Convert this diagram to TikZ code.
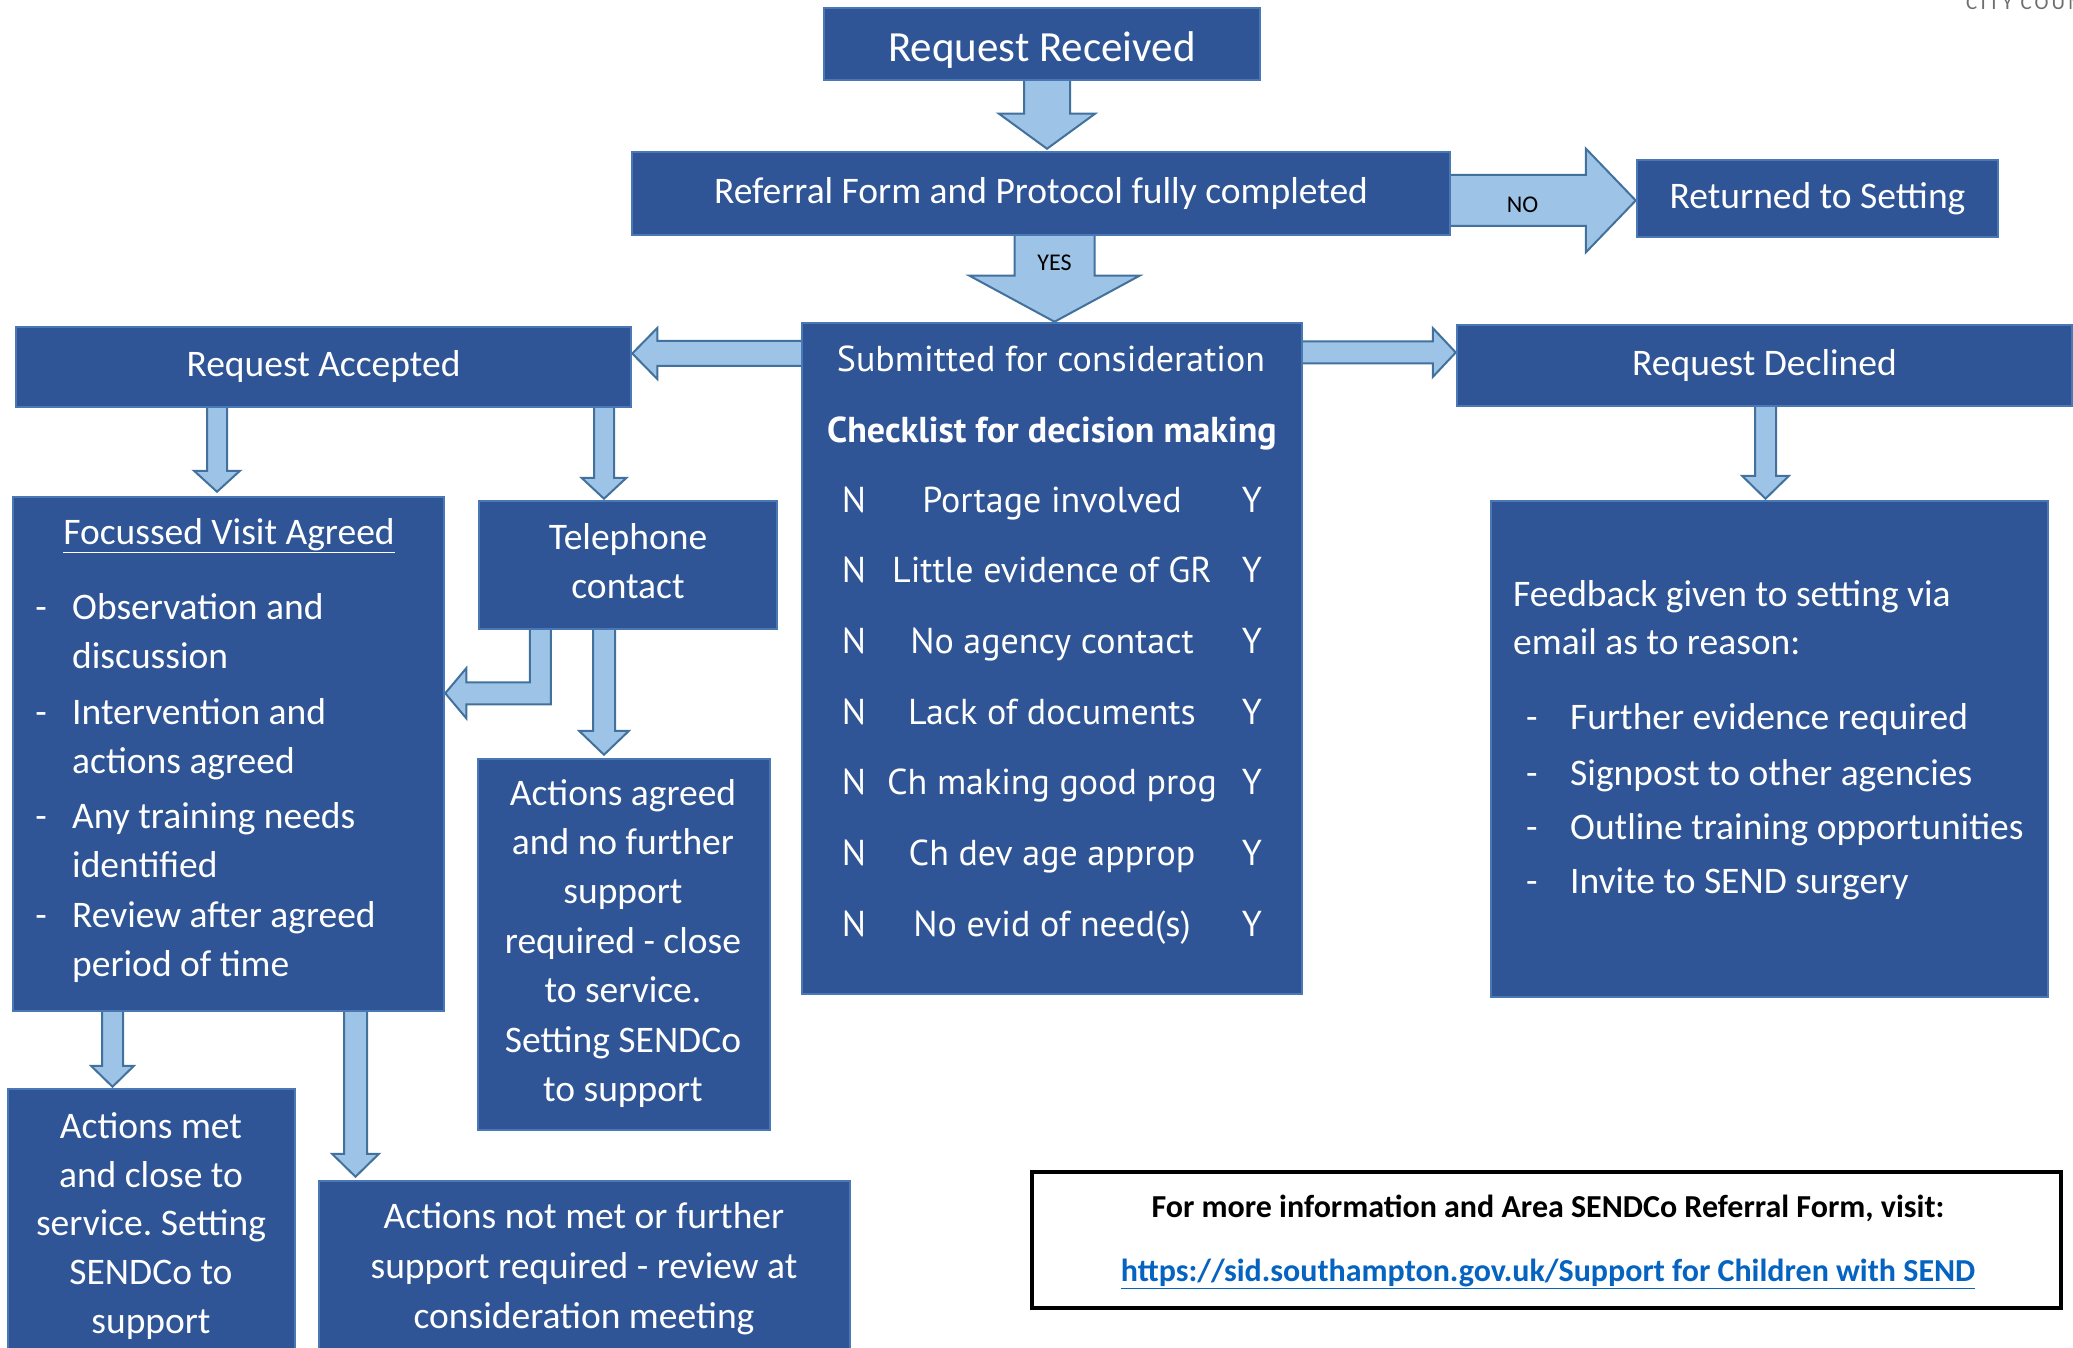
\documentclass[tikz,border=0pt]{standalone}
\usepackage{fontspec}
\setmainfont{Carlito}
\newfontfamily\chkfont{PT Sans}
\usetikzlibrary{calc}

\pgfdeclarelayer{background}
\pgfsetlayers{background,main}

\definecolor{boxblue}{HTML}{2F5597}
\definecolor{boxline}{HTML}{4A78B5}
\definecolor{arrowfill}{HTML}{9DC3E6}
\definecolor{arrowline}{HTML}{41719C}
\definecolor{linkblue}{HTML}{0563C1}
\definecolor{logogray}{HTML}{6E6E6E}

% block arrow: from, to, shaft half width, head half width, head length
\newcommand{\blockarrow}[5]{%
  \coordinate (ba-hb) at ($(#2)!#5pt!(#1)$);
  \filldraw[blockarr] ($(#1)!#3pt!90:(#2)$) -- ($(ba-hb)!#3pt!90:(#2)$)
    -- ($(ba-hb)!#4pt!90:(#2)$) -- (#2) -- ($(ba-hb)!#4pt!-90:(#2)$)
    -- ($(ba-hb)!#3pt!-90:(#2)$) -- ($(#1)!#3pt!-90:(#2)$) -- cycle;}

\begin{document}
\frenchspacing
\begin{tikzpicture}[x=1pt, y=-1pt,
    box/.style={draw=boxline, fill=boxblue, line width=2.5pt, inner sep=0pt,
      text=white, align=center, font=\fontsize{37.5}{49}\selectfont},
    txt/.style={text=white, inner sep=0pt, font=\fontsize{37.5}{49}\selectfont},
    chk/.style={text=white, inner sep=0pt, anchor=base, font=\chkfont\fontsize{36}{40}\selectfont},
    blockarr/.style={fill=arrowfill, draw=arrowline, line width=2pt, line join=miter},
    yesno/.style={inner sep=0pt, font=\fontsize{24}{28}\selectfont}]
    \useasboundingbox (0,0) rectangle (2073,1348);

    % Boxes
    \node[box, minimum width=436, minimum height=72, text height=40pt, text depth=5pt,
      font=\fontsize{43}{49}\selectfont] (recv) at (1042,44) {Request Received};
    \node[box, minimum width=818, minimum height=83] (ref) at (1041,193.5) {Referral Form and Protocol fully completed\vphantom{g}};
    \node[box, minimum width=361, minimum height=77] (ret) at (1817.5,198.5) {Returned to Setting};
    \node[box, minimum width=500, minimum height=671] (sub) at (1052,658.5) {};
    \node[box, minimum width=615, minimum height=80] (acc) at (323.5,367) {Request Accepted};
    \node[box, minimum width=615, minimum height=81] (dec) at (1764.5,365.5) {Request Declined};
    \node[box, minimum width=431, minimum height=514] (foc) at (228.5,754) {};
    \node[box, minimum width=298, minimum height=128] (tel) at (628,565) {};
    \node[box, minimum width=292, minimum height=371] (agr) at (624,944.5) {};
    \node[box, minimum width=557, minimum height=496] (fb) at (1769.5,749) {};
    \node[box, minimum width=287, minimum height=300] (met) at (151.5,1239) {};
    \node[box, minimum width=531, minimum height=200] (notmet) at (584.5,1281) {};
    \node[draw=black, line width=4pt, fill=white, minimum width=1029, minimum height=136] (info) at (1546.5,1240) {};

    % Checklist
    \node[chk] (subtitle) at (1051,371) {Submitted for consideration};
    \node[chk, font=\chkfont\bfseries\fontsize{36}{40}\selectfont] (chktitle) at (1052,442) {Checklist for decision making};
    \foreach \crit [count=\i from 0] in {Portage involved, Little evidence of GR, No agency contact,
        Lack of documents, Ch making good prog, Ch dev age approp, No evid of need(s)} {
      \node[chk] (chkN\i) at (854,512+70.7*\i) {N};
      \node[chk] (chkT\i) at (1052,512+70.7*\i) {\crit};
      \node[chk] (chkY\i) at (1252,512+70.7*\i) {Y};
    }

    % Focussed visit
    \node[txt, anchor=base] (foctitle) at (229,544) {\underline{Focussed Visit Agreed}};
    \foreach \yb/\lines [count=\i] in {619/{Observation and\\discussion}, 724/{Intervention and\\actions agreed},
        828/{Any training needs\\identified}, 927/{Review after agreed\\period of time}} {
      \node[txt, anchor=base] (focdash\i) at (41,\yb) {-};
      \node[txt, anchor=north west, align=left] (focitem\i) at (72,\yb-34.3) {\strut\lines};
    }

    % Telephone side
    \node[txt, anchor=north, align=center] (teltext) at (628,514.7) {\strut Telephone\\contact};
    \node[txt, anchor=north, align=center, font=\fontsize{37.5}{49.4}\selectfont] (agrtext) at (623,770.4)
      {\strut Actions agreed\\and no further\\support\\required - close\\to service.\\Setting SENDCo\\to support};
    \node[txt, anchor=north, align=center, font=\fontsize{37.5}{48.75}\selectfont] (mettext) at (151,1104)
      {\strut Actions met\\and close to\\service. Setting\\SENDCo to\\support};
    \node[txt, anchor=north, align=center, font=\fontsize{37.5}{50}\selectfont] (notmettext) at (584,1193)
      {\strut Actions not met or further\\support required - review at\\consideration meeting};

    % Feedback
    \node[txt, anchor=north west, align=left, font=\fontsize{37.5}{48}\selectfont] (fbtext) at (1513,572.4)
      {\strut Feedback given to setting via\\email as to reason:};
    \foreach \yb/\reason [count=\i] in {729/Further evidence required, 785/Signpost to other agencies,
        839/Outline training opportunities, 893/Invite to SEND surgery} {
      \node[txt, anchor=base west] (fbdash\i) at (1526,\yb) {-};
      \node[txt, anchor=base west] (fbitem\i) at (1570,\yb) {\reason};
    }

    % More information
    \node[inner sep=0pt, anchor=base, font=\bfseries\fontsize{32}{36}\selectfont] (infotext) at (1548,1217)
      {For more information and Area SENDCo Referral Form, visit:};
    \node[inner sep=0pt, anchor=base, text=linkblue, font=\bfseries\fontsize{32}{36}\selectfont] (infolink) at (1548,1281)
      {\underline{https://sid.southampton.gov.uk/Support for Children with SEND}};

    % Logo text, cut at the top
    \node[inner sep=0pt, anchor=base west, text=logogray, font=\fontsize{21}{22}\selectfont\addfontfeatures{LetterSpace=15}] (logo) at (1966,10) {CITY COUNCIL};

    % Block arrows
    \begin{pgfonlayer}{background}
      \coordinate (a1s) at ($(recv.south)+(5,-4)$);
      \coordinate (a1e) at ($(a1s |- ref.north)+(0,-2)$);
      \blockarrow{a1s}{a1e}{23}{48}{35}

      \coordinate (a2s) at ($(ref.east |- ret.west)+(-4,2)$);
      \coordinate (a2e) at (ret.west |- a2s);
      \blockarrow{a2s}{a2e}{25.5}{52}{50}

      \coordinate (a3s) at ($(ref.south -| sub.north)+(2.5,-4)$);
      \coordinate (a3e) at (a3s |- sub.north);
      \blockarrow{a3s}{a3e}{40}{85}{46}

      \coordinate (a4s) at ($(sub.west |- acc.east)+(4,-13.5)$);
      \coordinate (a4e) at ($(acc.east)+(0,-13.5)$);
      \blockarrow{a4s}{a4e}{12.5}{25.5}{25}

      \coordinate (a5s) at ($(sub.east |- dec.west)+(-4,-13)$);
      \coordinate (a5e) at ($(dec.west)+(0,-13)$);
      \blockarrow{a5s}{a5e}{11}{24.5}{23}

      \coordinate (a6s) at ($(acc.south -| foc.north)+(-11.5,-4)$);
      \coordinate (a6e) at ($(foc.north)+(-11.5,-4)$);
      \blockarrow{a6s}{a6e}{10}{23}{21}

      \coordinate (a7s) at ($(acc.south -| tel.north)+(-24,-4)$);
      \coordinate (a7e) at ($(tel.north)+(-24,-1)$);
      \blockarrow{a7s}{a7e}{10}{22.5}{21}

      \coordinate (a8s) at ($(dec.south)+(1,-4)$);
      \coordinate (a8e) at ($(a8s |- fb.north)+(0,-1)$);
      \blockarrow{a8s}{a8e}{10.5}{23.5}{23}

      \coordinate (a9s) at ($(tel.south)+(-24,-4)$);
      \coordinate (a9e) at ($(a9s |- agr.north)+(0,-3)$);
      \blockarrow{a9s}{a9e}{11}{25}{24}

      \coordinate (a10s) at ($(foc.south -| met.north)+(-39,-4)$);
      \coordinate (a10e) at ($(met.north)+(-39,-1)$);
      \blockarrow{a10s}{a10e}{10.5}{21.5}{21}

      \coordinate (a11s) at ($(foc.south)+(127,-4)$);
      \coordinate (a11e) at ($(a11s |- notmet.north)+(0,-3)$);
      \blockarrow{a11s}{a11e}{11.5}{23.5}{23}

      % Elbow arrow from telephone contact to focussed visit
      \coordinate (elb) at ($(tel.south west)+(62.5,63)$);
      \filldraw[blockarr] ($(elb)+(-10.5,-68)$) -- ($(elb)+(10.5,-68)$) -- ($(elb)+(10.5,11)$)
        -- ($(foc.east |- elb)+(21,11)$) -- ($(foc.east |- elb)+(21,25)$) -- (foc.east |- elb)
        -- ($(foc.east |- elb)+(21,-25)$) -- ($(foc.east |- elb)+(21,-11)$) -- ($(elb)+(-10.5,-11)$) -- cycle;
    \end{pgfonlayer}

    % Arrow labels
    \node[yesno] (no) at ($(a2s)!0.4!(a2e)+(0,4)$) {NO};
    \node[yesno] (yes) at ($(a3s)+(0,31)$) {YES};
\end{tikzpicture}
\end{document}
